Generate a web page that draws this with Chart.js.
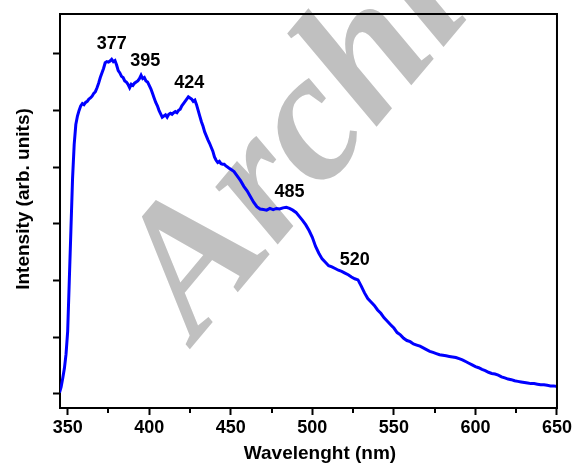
<!DOCTYPE html>
<html>
<head>
  <title>Intensity vs Wavelength</title>
  <script src="https://cdn.jsdelivr.net/npm/chart.js"></script>
  <style>
    body { margin: 0; background: #fff; }
  </style>
</head>
<body>
<canvas id="specChart" width="574" height="463"></canvas>
<script>
  // wavelength (nm)
  const wavelengths = [
    345, 346, 347, 348, 349, 350, 351, 352, 353, 354, 355, 356, 357, 358, 359,
    360, 361, 362, 363, 364, 365, 366, 367, 368, 369, 370, 371, 372, 373, 374,
    375, 376, 377, 378, 379, 380, 381, 382, 383, 384, 385, 386, 387, 388, 389,
    390, 391, 392, 393, 394, 395, 396, 397, 398, 399, 400, 401, 402, 403, 404,
    405, 406, 407, 408, 409, 410, 411, 412, 413, 414, 415, 416, 417, 418, 419,
    420, 421, 422, 423, 424, 425, 426, 427, 428, 429, 430, 431, 432, 433, 434,
    435, 436, 437, 438, 439, 440, 441, 442, 443, 444, 445, 446, 447, 448, 449,
    450, 452, 454, 456, 458, 460, 462, 464, 466, 468, 470, 472, 474, 476, 478,
    480, 482, 484, 486, 488, 490, 492, 494, 496, 498, 500, 502, 504, 506, 508,
    510, 512, 514, 516, 518, 520, 522, 524, 526, 528, 530, 532, 534, 536, 538,
    540, 542, 544, 546, 548, 550, 552, 554, 556, 558, 560, 562, 564, 566, 568,
    570, 572, 574, 576, 578, 580, 582, 584, 586, 588, 590, 592, 594, 596, 598,
    600, 602, 604, 606, 608, 610, 612, 614, 616, 618, 620, 622, 624, 626, 628,
    630, 632, 634, 636, 638, 640, 642, 644, 646, 648, 650
  ];

  // intensity (arb. units)
  const intensity = [
    0.02, 0.12, 0.28, 0.45, 0.7, 1.1, 2.0, 2.9, 3.8, 4.4, 4.75, 4.9, 5.0, 5.08, 5.12,
    5.1, 5.14, 5.16, 5.2, 5.22, 5.25, 5.3, 5.33, 5.4, 5.48, 5.58, 5.66, 5.74, 5.84, 5.86,
    5.85, 5.87, 5.9, 5.86, 5.88, 5.8, 5.7, 5.66, 5.6, 5.58, 5.52, 5.5, 5.46, 5.4, 5.46,
    5.44, 5.48, 5.5, 5.52, 5.56, 5.62, 5.56, 5.58, 5.52, 5.5, 5.44, 5.38, 5.3, 5.22, 5.14,
    5.08, 5.0, 4.94, 4.88, 4.9, 4.92, 4.88, 4.93, 4.95, 4.93, 4.96, 4.98, 4.96, 5.0, 5.02,
    5.08, 5.12, 5.16, 5.2, 5.24, 5.22, 5.2, 5.16, 5.18, 5.1, 5.0, 4.9, 4.8, 4.72, 4.62,
    4.55, 4.48, 4.42, 4.35, 4.28, 4.18, 4.12, 4.08, 4.1, 4.06, 4.05, 4.05, 4.02, 4.0, 3.98,
    3.96, 3.92, 3.84, 3.76, 3.66, 3.58, 3.48, 3.38, 3.3, 3.26, 3.25, 3.24, 3.27, 3.25, 3.27,
    3.26, 3.28, 3.29, 3.27, 3.24, 3.2, 3.13, 3.06, 2.98, 2.88, 2.76, 2.6, 2.48, 2.38, 2.32,
    2.26, 2.24, 2.21, 2.18, 2.16, 2.13, 2.1, 2.06, 2.03, 2.01, 1.9, 1.78, 1.68, 1.62, 1.56,
    1.48, 1.42, 1.34, 1.28, 1.22, 1.16, 1.08, 1.04, 0.98, 0.94, 0.92, 0.88, 0.86, 0.84, 0.81,
    0.78, 0.75, 0.73, 0.71, 0.69, 0.68, 0.67, 0.66, 0.65, 0.64, 0.62, 0.6, 0.57, 0.54, 0.51,
    0.48, 0.46, 0.43, 0.41, 0.38, 0.36, 0.35, 0.33, 0.3, 0.28, 0.26, 0.25, 0.23, 0.22, 0.21,
    0.2, 0.19, 0.18, 0.18, 0.17, 0.16, 0.16, 0.15, 0.14, 0.14, 0.13
  ];

  // axis ticks
  const xTicks = [350, 400, 450, 500, 550, 600, 650];
  const xMinorTicks = [375, 425, 475, 525, 575, 625];
  const yTicks = [0, 1, 2, 3, 4, 5, 6];

  // peak labels and where they sit (data coords)
  const peakLabels = ['377', '395', '424', '485', '520'];
  const peakLabelX = [377, 397.5, 424.5, 486, 526];
  const peakLabelY = [6.17, 5.87, 5.49, 3.56, 2.36];

  const xTitle = 'Wavelenght (nm)';
  const yTitle = 'Intensity (arb. units)';
  const watermarkText = 'Archive';

  const FONT = "'Liberation Sans', Arial, sans-serif";

  const points = wavelengths.map((w, i) => ({ x: w, y: intensity[i] }));

  // grey watermark behind everything
  const watermark = {
    id: 'watermark',
    beforeDraw(chart) {
      const ctx = chart.ctx;
      ctx.save();
      ctx.translate(196, 342);
      ctx.rotate(-50 * Math.PI / 180);
      ctx.font = "bold italic 185px 'Liberation Serif', 'Times New Roman', serif";
      ctx.fillStyle = '#c0c0c0';
      ctx.textBaseline = 'alphabetic';
      ctx.fillText(watermarkText, 0, 0);
      ctx.restore();
    }
  };

  // top/right frame, minor x ticks, axis titles and peak numbers
  const extras = {
    id: 'extras',
    afterDatasetsDraw(chart) {
      const ctx = chart.ctx;
      const a = chart.chartArea;
      const xs = chart.scales.x;
      const ys = chart.scales.y;
      ctx.save();
      ctx.strokeStyle = '#000';
      ctx.lineWidth = 2;
      ctx.beginPath();
      ctx.moveTo(a.left - 1, a.top);
      ctx.lineTo(a.right, a.top);
      ctx.lineTo(a.right, a.bottom + 1);
      ctx.stroke();

      ctx.beginPath();
      xMinorTicks.forEach(v => {
        const px = Math.round(xs.getPixelForValue(v));
        ctx.moveTo(px, a.bottom);
        ctx.lineTo(px, a.bottom + 5);
      });
      ctx.stroke();

      ctx.fillStyle = '#000';
      ctx.textAlign = 'center';

      // axis titles
      ctx.font = 'bold 19px ' + FONT;
      ctx.textBaseline = 'alphabetic';
      ctx.fillText(xTitle, 320, 459);
      ctx.save();
      ctx.translate(29, 199);
      ctx.rotate(-Math.PI / 2);
      ctx.fillText(yTitle, 0, 0);
      ctx.restore();

      ctx.font = 'bold 18px ' + FONT;
      ctx.textBaseline = 'middle';
      peakLabels.forEach((t, i) => {
        ctx.fillText(t, xs.getPixelForValue(peakLabelX[i]), ys.getPixelForValue(peakLabelY[i]));
      });
      ctx.restore();
    }
  };

  const ctx = document.getElementById('specChart').getContext('2d');
  new Chart(ctx, {
    type: 'line',
    data: {
      datasets: [{
        data: points,
        borderColor: '#0000ff',
        borderWidth: 3,
        pointRadius: 0,
        tension: 0,
        fill: false
      }]
    },
    options: {
      responsive: false,
      animation: false,
      layout: { padding: { top: 14, right: 17, left: 0, bottom: 0 } },
      plugins: {
        legend: { display: false },
        tooltip: { enabled: false }
      },
      scales: {
        x: {
          type: 'linear',
          min: 345.3,
          max: 650,
          afterBuildTicks: s => { s.ticks = xTicks.map(v => ({ value: v })); },
          afterFit: s => { s.height = 55; },
          border: { display: true, color: '#000', width: 2 },
          grid: { drawOnChartArea: false, color: '#000', tickLength: 7, tickWidth: 2 },
          ticks: {
            color: '#000',
            font: { family: FONT, size: 18, weight: 'bold' },
            padding: 2,
            maxRotation: 0
          }
        },
        y: {
          min: -0.25,
          max: 6.7,
          afterBuildTicks: s => { s.ticks = yTicks.map(v => ({ value: v })); },
          afterFit: s => { s.width = 60; },
          border: { display: true, color: '#000', width: 2 },
          grid: { drawOnChartArea: false, color: '#000', tickLength: 7, tickWidth: 2 },
          ticks: { display: false }
        }
      }
    },
    plugins: [watermark, extras]
  });
</script>
</body>
</html>
